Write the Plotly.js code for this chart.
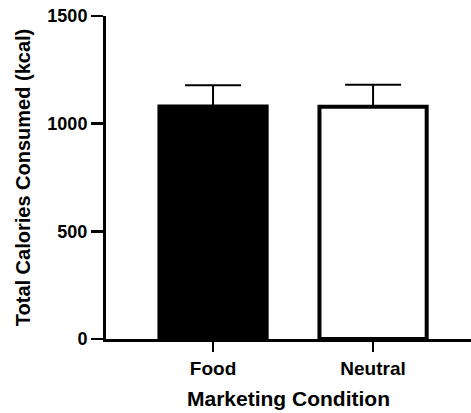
<!DOCTYPE html>
<html>
<head>
<meta charset="utf-8">
<script src="https://cdn.plot.ly/plotly-3.0.1.min.js"></script>
<style>html,body{margin:0;padding:0;background:#fff;}#chart{width:471px;height:413px;}</style>
</head>
<body>
<div id="chart"></div>
<script>
const categories = ["Food", "Neutral"];
const meanCalories = [1080, 1078];
const semCalories = [98, 103];
const barFills = ["#000000", "#ffffff"];
const yTickValues = [0, 500, 1000, 1500];
const yTickLabels = ["0", "500", "1000", "1500"];

const fontFamily = "Arial, 'Liberation Sans', Helvetica, sans-serif";

const trace = {
  type: "bar",
  x: categories,
  y: meanCalories,
  width: 0.67,
  marker: { color: barFills, line: { color: "#000", width: 4 } },
  error_y: {
    type: "data",
    symmetric: false,
    array: semCalories,
    arrayminus: [0, 0],
    color: "#000",
    thickness: 2,
    width: 28
  },
  hoverinfo: "none"
};

const layout = {
  width: 471,
  height: 413,
  margin: { l: 106, r: 0, t: 16, b: 74 },
  paper_bgcolor: "#fff",
  plot_bgcolor: "#fff",
  showlegend: false,
  font: { family: fontFamily, color: "#000" },
  xaxis: {
    type: "category",
    range: [-0.669, 1.612],
    showline: true,
    linecolor: "#000",
    linewidth: 3,
    ticks: "outside",
    ticklen: 10,
    tickwidth: 2.5,
    tickcolor: "#000",
    showgrid: false,
    zeroline: false,
    tickfont: { family: fontFamily, size: 19, color: "#000", weight: "bold" },
    title: { text: "<b>Marketing Condition</b>", font: { family: fontFamily, size: 21, color: "#000" }, standoff: 14 }
  },
  yaxis: {
    range: [0, 1500],
    showline: true,
    linecolor: "#000",
    linewidth: 3,
    ticks: "outside",
    ticklen: 12,
    tickwidth: 2.5,
    tickcolor: "#000",
    tickvals: yTickValues,
    ticktext: yTickLabels,
    showgrid: false,
    zeroline: false,
    tickfont: { family: fontFamily, size: 18, color: "#000", weight: "bold" },
    title: { text: "<b>Total Calories Consumed (kcal)</b>", font: { family: fontFamily, size: 20, color: "#000" }, standoff: 12 }
  }
};

Plotly.newPlot("chart", [trace], layout, { staticPlot: true, displayModeBar: false });
</script>
</body>
</html>
